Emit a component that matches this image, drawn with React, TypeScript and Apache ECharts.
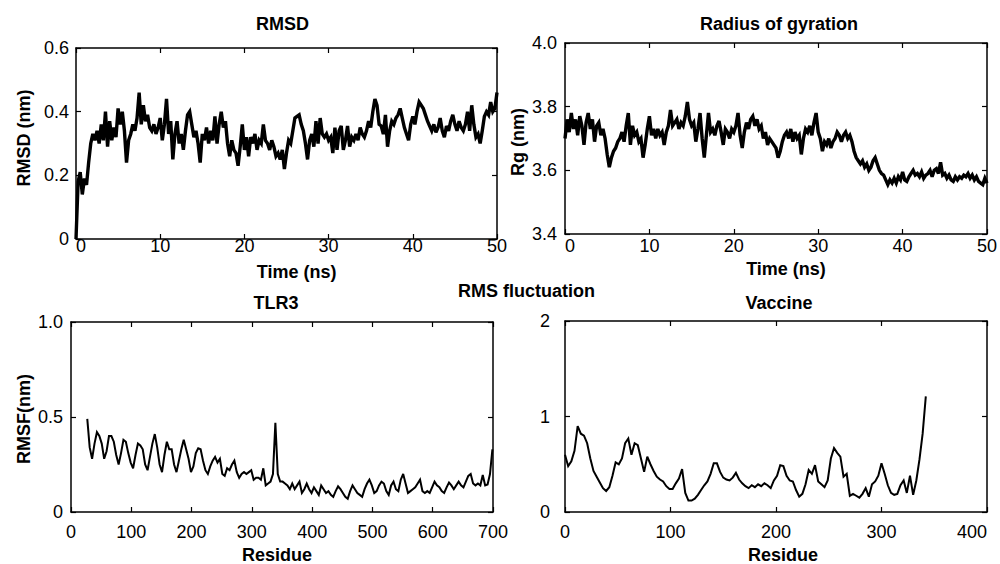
import React, { useEffect, useRef } from "react";
import * as echarts from "echarts";

// ---------- DATA ----------
const rmsdStart = 0;
const rmsdStep = 0.25; // ns
const rmsdValues = [
  0.00, 0.18, 0.21, 0.14, 0.19, 0.17, 0.24, 0.30, 0.33, 0.31, 0.34, 0.30, 0.36, 0.31, 0.40, 0.29, 0.37, 0.31, 0.35, 0.32,
  0.41, 0.36, 0.40, 0.34, 0.24, 0.31, 0.33, 0.36, 0.34, 0.38, 0.46, 0.36, 0.42, 0.37, 0.39, 0.35, 0.34, 0.36, 0.33, 0.35,
  0.38, 0.31, 0.36, 0.44, 0.33, 0.37, 0.25, 0.33, 0.37, 0.30, 0.33, 0.28, 0.34, 0.39, 0.40, 0.36, 0.32, 0.34, 0.30, 0.24,
  0.33, 0.31, 0.35, 0.30, 0.34, 0.31, 0.385, 0.30, 0.36, 0.40, 0.35, 0.37, 0.30, 0.26, 0.31, 0.28, 0.27, 0.23, 0.29, 0.36,
  0.28, 0.32, 0.26, 0.32, 0.30, 0.33, 0.28, 0.31, 0.30, 0.36, 0.31, 0.30, 0.28, 0.31, 0.29, 0.26, 0.27, 0.25, 0.28, 0.22,
  0.27, 0.31, 0.30, 0.34, 0.38, 0.385, 0.39, 0.36, 0.34, 0.30, 0.25, 0.31, 0.33, 0.29, 0.37, 0.30, 0.38, 0.33, 0.32, 0.33,
  0.31, 0.32, 0.27, 0.35, 0.28, 0.34, 0.355, 0.28, 0.31, 0.355, 0.29, 0.32, 0.31, 0.33, 0.31, 0.35, 0.33, 0.32, 0.34, 0.37,
  0.35, 0.40, 0.44, 0.42, 0.36, 0.355, 0.33, 0.39, 0.29, 0.34, 0.37, 0.36, 0.38, 0.39, 0.41, 0.38, 0.35, 0.33, 0.31, 0.36,
  0.385, 0.36, 0.40, 0.43, 0.42, 0.41, 0.39, 0.37, 0.355, 0.34, 0.36, 0.335, 0.35, 0.38, 0.34, 0.32, 0.355, 0.34, 0.37, 0.39,
  0.36, 0.34, 0.37, 0.35, 0.34, 0.36, 0.40, 0.34, 0.42, 0.36, 0.32, 0.33, 0.30, 0.34, 0.385, 0.40, 0.39, 0.43, 0.40, 0.41, 0.46,
];

const rgStart = 0;
const rgStep = 0.25; // ns
const rgValues = [
  3.70, 3.76, 3.72, 3.78, 3.73, 3.76, 3.71, 3.77, 3.74, 3.68, 3.75, 3.78, 3.73, 3.76, 3.69, 3.74, 3.75, 3.71, 3.73, 3.70,
  3.65, 3.61, 3.64, 3.66, 3.67, 3.69, 3.70, 3.72, 3.69, 3.74, 3.78, 3.68, 3.74, 3.71, 3.72, 3.69, 3.70, 3.64, 3.68, 3.73,
  3.77, 3.71, 3.73, 3.70, 3.73, 3.71, 3.72, 3.68, 3.72, 3.74, 3.79, 3.74, 3.75, 3.76, 3.73, 3.75, 3.74, 3.77, 3.815, 3.76,
  3.74, 3.75, 3.69, 3.73, 3.78, 3.70, 3.64, 3.71, 3.78, 3.72, 3.73, 3.71, 3.74, 3.755, 3.72, 3.68, 3.73, 3.72, 3.70, 3.73,
  3.72, 3.74, 3.78, 3.71, 3.67, 3.72, 3.75, 3.73, 3.76, 3.77, 3.74, 3.76, 3.73, 3.74, 3.70, 3.72, 3.68, 3.70, 3.69, 3.68,
  3.67, 3.64, 3.66, 3.69, 3.71, 3.72, 3.70, 3.73, 3.69, 3.72, 3.70, 3.71, 3.65, 3.70, 3.73, 3.72, 3.74, 3.71, 3.75, 3.78,
  3.72, 3.70, 3.66, 3.69, 3.68, 3.70, 3.67, 3.69, 3.70, 3.72, 3.71, 3.69, 3.71, 3.72, 3.70, 3.71, 3.69, 3.66, 3.64, 3.63,
  3.62, 3.63, 3.61, 3.62, 3.60, 3.61, 3.63, 3.64, 3.62, 3.60, 3.59, 3.585, 3.57, 3.555, 3.57, 3.56, 3.575, 3.56, 3.58, 3.57,
  3.595, 3.57, 3.565, 3.58, 3.59, 3.60, 3.585, 3.59, 3.58, 3.595, 3.575, 3.585, 3.59, 3.60, 3.58, 3.60, 3.605, 3.59, 3.625, 3.585,
  3.59, 3.575, 3.585, 3.57, 3.565, 3.58, 3.57, 3.58, 3.575, 3.585, 3.58, 3.59, 3.575, 3.585, 3.57, 3.58, 3.565, 3.56, 3.555, 3.575, 3.56,
];

const tlr3Start = 27;
const tlr3Step = 4; // residues
const tlr3Rmsf = [
  0.49, 0.34, 0.28, 0.36, 0.42, 0.40, 0.36, 0.28, 0.32, 0.40,
  0.40, 0.37, 0.30, 0.25, 0.31, 0.38, 0.37, 0.31, 0.26, 0.23,
  0.30, 0.36, 0.35, 0.33, 0.25, 0.22, 0.29, 0.36, 0.41, 0.34,
  0.25, 0.21, 0.30, 0.37, 0.33, 0.33, 0.25, 0.21, 0.27, 0.33,
  0.38, 0.33, 0.28, 0.21, 0.24, 0.31, 0.335, 0.33, 0.27, 0.22,
  0.20, 0.24, 0.27, 0.29, 0.26, 0.28, 0.20, 0.19, 0.23, 0.22,
  0.25, 0.27, 0.21, 0.18, 0.20, 0.21, 0.20, 0.21, 0.22, 0.17,
  0.18, 0.18, 0.17, 0.23, 0.14, 0.15, 0.16, 0.20, 0.47, 0.20,
  0.16, 0.16, 0.15, 0.14, 0.12, 0.15, 0.12, 0.14, 0.16, 0.10,
  0.12, 0.15, 0.12, 0.10, 0.13, 0.11, 0.09, 0.14, 0.12, 0.10,
  0.11, 0.09, 0.08, 0.11, 0.135, 0.12, 0.10, 0.08, 0.07, 0.11,
  0.14, 0.12, 0.10, 0.09, 0.08, 0.12, 0.15, 0.17, 0.14, 0.10,
  0.11, 0.14, 0.16, 0.15, 0.11, 0.09, 0.14, 0.16, 0.12, 0.11,
  0.17, 0.20, 0.15, 0.10, 0.11, 0.12, 0.13, 0.15, 0.17, 0.11,
  0.10, 0.11, 0.10, 0.13, 0.16, 0.14, 0.13, 0.11, 0.10, 0.13,
  0.155, 0.14, 0.12, 0.14, 0.16, 0.14, 0.13, 0.16, 0.19, 0.20,
  0.15, 0.14, 0.15, 0.14, 0.195, 0.14, 0.145, 0.20, 0.33,
];

const vaccineStart = 0;
const vaccineStep = 3; // residues
const vaccineRmsf = [
  0.60, 0.48, 0.53, 0.64, 0.90, 0.82, 0.80, 0.72, 0.56, 0.43,
  0.37, 0.31, 0.25, 0.22, 0.26, 0.38, 0.52, 0.50, 0.56, 0.72,
  0.77, 0.60, 0.72, 0.70, 0.56, 0.42, 0.58, 0.50, 0.43, 0.37,
  0.34, 0.32, 0.27, 0.24, 0.24, 0.30, 0.35, 0.45, 0.20, 0.12,
  0.12, 0.14, 0.18, 0.23, 0.28, 0.32, 0.40, 0.51, 0.51, 0.42,
  0.36, 0.34, 0.33, 0.36, 0.41, 0.34, 0.30, 0.27, 0.25, 0.28,
  0.26, 0.29, 0.27, 0.30, 0.28, 0.25, 0.33, 0.38, 0.49, 0.48,
  0.38, 0.33, 0.32, 0.23, 0.16, 0.19, 0.29, 0.44, 0.40, 0.49,
  0.32, 0.29, 0.26, 0.33, 0.56, 0.67, 0.62, 0.58, 0.37, 0.40,
  0.17, 0.19, 0.17, 0.15, 0.19, 0.25, 0.16, 0.29, 0.32, 0.38,
  0.51, 0.40, 0.28, 0.20, 0.18, 0.19, 0.28, 0.33, 0.20, 0.38,
  0.18, 0.33, 0.55, 0.82, 1.21,
];

// axis ranges / tick intervals
const rmsdXRange = [0, 50, 10];
const rmsdYRange = [0, 0.6, 0.2];
const rgXRange = [0, 50, 10];
const rgYRange = [3.4, 4.0, 0.2];
const tlr3XRange = [0, 700, 100];
const tlr3YRange = [0, 1.0, 0.5];
const vaccineXRange = [0, 400, 100];
const vaccineYRange = [0, 2, 1];

const titles = {
  rmsd: "RMSD",
  rg: "Radius of gyration",
  rmsf: "RMS fluctuation",
  tlr3: "TLR3",
  vaccine: "Vaccine",
};
const axisNames = {
  time: "Time (ns)",
  residue: "Residue",
  rmsd: "RMSD (nm)",
  rg: "Rg (nm)",
  rmsf: "RMSF(nm)",
};

// ---------- STYLE ----------
const FONT = '"Liberation Sans", Arial, Helvetica, sans-serif';
const BLACK = "#000";

function toPairs(start: number, step: number, vals: number[]) {
  return vals.map((v, i) => [start + i * step, v]);
}

function xPair(grid: number, r: number[], margin: number, alignMin?: string, alignMax?: string) {
  const base = {
    type: "value",
    gridIndex: grid,
    min: r[0],
    max: r[1],
    interval: r[2],
    splitLine: { show: false },
    axisLine: { show: true, onZero: false, lineStyle: { color: BLACK, width: 1.5 } },
    axisTick: { show: true, inside: true, length: 5, lineStyle: { color: BLACK, width: 1.2 } },
  };
  return [
    {
      ...base,
      position: "bottom",
      axisLabel: {
        show: true,
        margin,
        color: BLACK,
        fontSize: 18,
        fontFamily: FONT,
        ...(alignMin ? { alignMinLabel: alignMin } : {}),
        ...(alignMax ? { alignMaxLabel: alignMax } : {}),
      },
    },
    { ...base, position: "top", axisLabel: { show: false } },
  ];
}

function yPair(grid: number, r: number[], margin: number, fmt: (v: number) => string) {
  const base = {
    type: "value",
    gridIndex: grid,
    min: r[0],
    max: r[1],
    interval: r[2],
    splitLine: { show: false },
    axisLine: { show: true, onZero: false, lineStyle: { color: BLACK, width: 1.5 } },
    axisTick: { show: true, inside: true, length: 5, lineStyle: { color: BLACK, width: 1.2 } },
  };
  return [
    {
      ...base,
      position: "left",
      axisLabel: { show: true, margin, color: BLACK, fontSize: 18, fontFamily: FONT, formatter: fmt },
    },
    { ...base, position: "right", axisLabel: { show: false } },
  ];
}

function txt(text: string, x: number, y: number, bold = true, rotate = false) {
  return {
    type: "text",
    x,
    y,
    rotation: rotate ? Math.PI / 2 : 0,
    silent: true,
    style: {
      text,
      fill: BLACK,
      fontSize: 18,
      fontWeight: bold ? "bold" : "normal",
      fontFamily: FONT,
      align: "center",
      verticalAlign: "middle",
    },
  };
}

function lineSeries(xi: number, yi: number, data: number[][], width: number) {
  return {
    type: "line",
    xAxisIndex: xi,
    yAxisIndex: yi,
    data,
    showSymbol: false,
    symbol: "none",
    silent: true,
    clip: true,
    lineStyle: { color: BLACK, width, join: "miter", miterLimit: 3 },
  };
}

const dec1 = (v: number) => (v === 0 ? "0" : v.toFixed(1));

const option: any = {
  animation: false,
  backgroundColor: "#fff",
  grid: [
    { left: 76, top: 48, width: 421, height: 191, outerBoundsMode: "none" },
    { left: 565, top: 43, width: 422, height: 191, outerBoundsMode: "none" },
    { left: 71, top: 322, width: 422, height: 190, outerBoundsMode: "none" },
    { left: 565, top: 321, width: 422, height: 191, outerBoundsMode: "none" },
  ],
  xAxis: [
    ...xPair(0, rmsdXRange, -2, "left"),
    ...xPair(1, rgXRange, 3, "left"),
    ...xPair(2, tlr3XRange, 11),
    ...xPair(3, vaccineXRange, 11, undefined, "right"),
  ],
  yAxis: [
    ...yPair(0, rmsdYRange, 7, dec1),
    ...yPair(1, rgYRange, 8, (v: number) => v.toFixed(1)),
    ...yPair(2, tlr3YRange, 8, dec1),
    ...yPair(3, vaccineYRange, 15, (v: number) => String(Math.round(v))),
  ],
  series: [
    lineSeries(0, 0, toPairs(rmsdStart, rmsdStep, rmsdValues), 3.4),
    lineSeries(2, 2, toPairs(rgStart, rgStep, rgValues), 3.4),
    lineSeries(4, 4, toPairs(tlr3Start, tlr3Step, tlr3Rmsf), 2),
    lineSeries(6, 6, toPairs(vaccineStart, vaccineStep, vaccineRmsf), 2),
  ],
  graphic: [
    txt(titles.rmsd, 282.5, 23.5),
    txt(titles.rg, 779, 23.5),
    txt(titles.rmsf, 526.5, 291),
    txt(titles.tlr3, 276, 302.5),
    txt(titles.vaccine, 779, 302.5),
    txt(axisNames.time, 296.7, 271.5),
    txt(axisNames.time, 786, 268.5),
    txt(axisNames.residue, 277, 555),
    txt(axisNames.residue, 783, 555),
    txt(axisNames.rmsd, 23.5, 138, true, true),
    txt(axisNames.rg, 518, 142, true, true),
    txt(axisNames.rmsf, 23.5, 419, true, true),
  ],
};

export default function App() {
  const ref = useRef<HTMLDivElement>(null);
  useEffect(() => {
    if (!ref.current) return;
    const chart = echarts.init(ref.current, null, { renderer: "svg" });
    chart.setOption(option);
    return () => chart.dispose();
  }, []);
  return (
    <div
      ref={ref}
      style={{ position: "fixed", left: 0, top: 0, width: 1000, height: 564, background: "#fff" }}
    />
  );
}
